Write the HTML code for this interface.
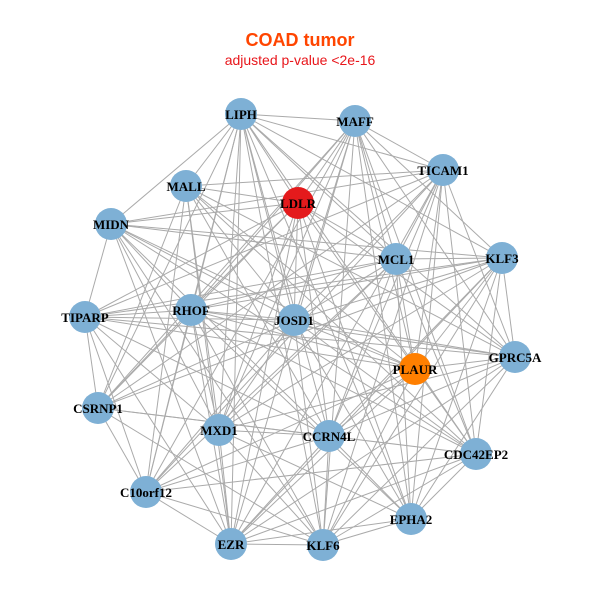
<!DOCTYPE html>
<html><head><meta charset="utf-8"><style>
html,body{margin:0;padding:0;background:#fff;width:600px;height:600px;overflow:hidden}
</style></head><body>
<svg id="s" width="600" height="600" xmlns="http://www.w3.org/2000/svg">
<text x="300" y="46" text-anchor="middle" font-family="Liberation Sans, sans-serif" font-weight="bold" font-size="18" fill="#FF4500">COAD tumor</text>
<text x="300" y="65" text-anchor="middle" font-family="Liberation Sans, sans-serif" font-size="14" fill="#E8161B">adjusted p-value &lt;2e-16</text>
<g id="e" stroke="#aaaaaa" stroke-width="1"></g>
<g id="n"></g>
</svg>
<script>
var N=[["LIPH",241,114],["MAFF",355,121],["TICAM1",443,170],["LDLR",298,203],["MALL",186,186],["MIDN",111,224],["MCL1",396,259],["KLF3",502,258],["TIPARP",85,317],["RHOF",191,310],["JOSD1",294,320],["GPRC5A",515,357],["PLAUR",415,369],["CSRNP1",98,408],["MXD1",219,430],["CCRN4L",329,436],["CDC42EP2",476,454],["C10orf12",146,492],["EPHA2",411,519],["EZR",231,544],["KLF6",323,545]];
var ns="http://www.w3.org/2000/svg",e=document.getElementById("e"),g=document.getElementById("n");
var seed=7;function r(){seed=(seed*9301+49297)%233280;return seed/233280;}
for(var i=0;i<N.length;i++)for(var j=i+1;j<N.length;j++){if(r()<0.72){var l=document.createElementNS(ns,"line");l.setAttribute("x1",N[i][1]);l.setAttribute("y1",N[i][2]);l.setAttribute("x2",N[j][1]);l.setAttribute("y2",N[j][2]);e.appendChild(l);}}
N.forEach(function(d){var c=document.createElementNS(ns,"circle");c.setAttribute("cx",d[1]);c.setAttribute("cy",d[2]);c.setAttribute("r",16);
c.setAttribute("fill",d[0]=="LDLR"?"#E41A1C":d[0]=="PLAUR"?"#FF7F00":"#7EB0D5");g.appendChild(c);});
N.forEach(function(d){var t=document.createElementNS(ns,"text");t.setAttribute("x",d[1]);t.setAttribute("y",d[2]+5);t.setAttribute("text-anchor","middle");
t.setAttribute("font-family","Liberation Serif, serif");t.setAttribute("font-weight","bold");t.setAttribute("font-size","13");t.textContent=d[0];g.appendChild(t);});
</script>
</body></html>
